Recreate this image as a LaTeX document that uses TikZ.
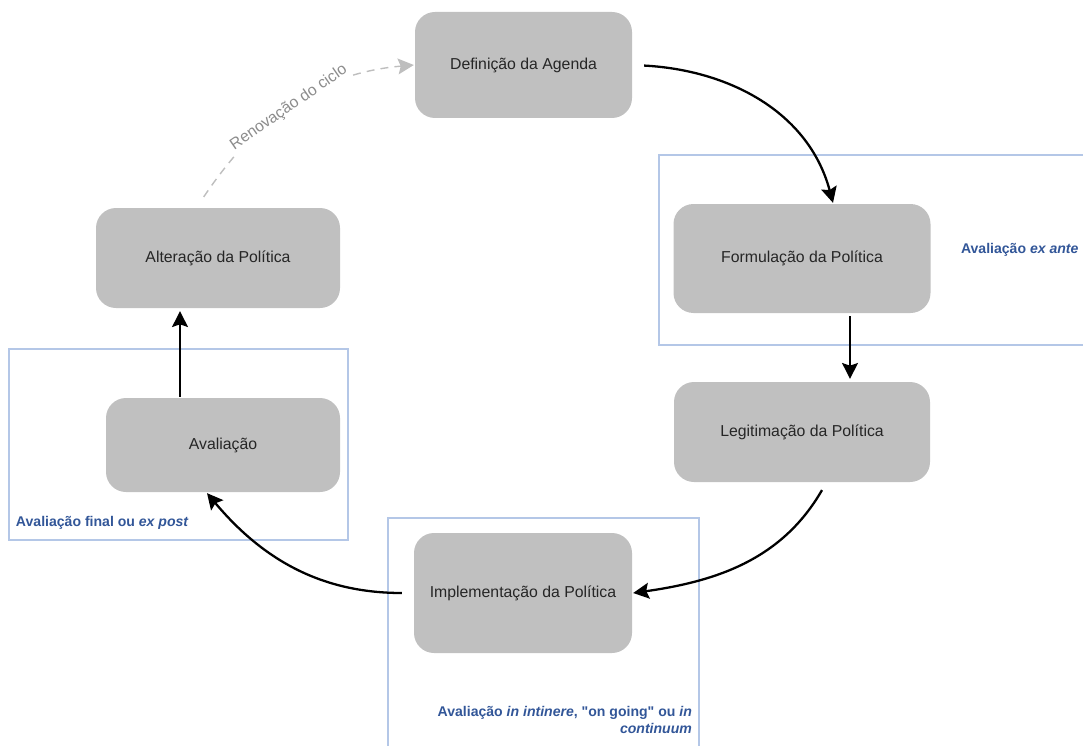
\documentclass[tikz,border=0pt]{standalone}
\usepackage{fontspec}
\setmainfont{Liberation Sans}
\usetikzlibrary{arrows.meta}

\definecolor{caixa}{RGB}{192,192,192}
\definecolor{moldura}{RGB}{180,199,231}
\definecolor{azul}{RGB}{50,86,152}
\definecolor{cinza}{RGB}{190,190,190}

\begin{document}
\begin{tikzpicture}[->,>={Stealth[length=9pt,width=9pt,inset=1.5pt]},line width=1.3pt,
                    font=\fontsize{9}{11}\selectfont]

  \tikzstyle{etapa}=[rectangle,rounded corners=0.4cm,fill=caixa,text=black!85,align=center]
  \tikzstyle{quadro}=[-,draw=moldura,line width=1pt]
  \tikzstyle{rotulo}=[text=azul,font=\fontsize{8}{10}\selectfont\bfseries]

  \useasboundingbox (0,0) rectangle (21.66,-14.9);

  \draw[quadro] (13.18,-3.10) rectangle (22.00,-6.90);
  \draw[quadro] (0.18,-6.98) rectangle (6.96,-10.80);
  \draw[quadro] (7.76,-10.36) rectangle (13.98,-15.20);

  \node[etapa,minimum width=4.34cm,minimum height=2.12cm] (agenda) at (10.47,-1.30) {Definição da Agenda};
  \node[etapa,minimum width=5.14cm,minimum height=2.18cm] (formul) at (16.04,-5.17) {Formulação da Política};
  \node[etapa,minimum width=5.12cm,minimum height=2.00cm] (legit)  at (16.04,-8.64) {Legitimação da Política};
  \node[etapa,minimum width=4.36cm,minimum height=2.40cm] (implem) at (10.46,-11.86) {Implementação da Política};
  \node[etapa,minimum width=4.68cm,minimum height=1.88cm] (aval)   at (4.46,-8.90) {Avaliação};
  \node[etapa,minimum width=4.88cm,minimum height=2.00cm] (alter)  at (4.36,-5.16) {Alteração da Política};

  \node[rotulo,anchor=west] (exante) at (19.08,-5.00) {Avaliação \textit{ex ante}};
  \node[rotulo,anchor=west] (expost) at (0.18,-10.46) {Avaliação final ou \textit{ex post}};
  \node[rotulo,anchor=north east,align=right,inner sep=0pt] (intinere) at (13.86,-14.10)
       {Avaliação \textit{in intinere}, \textquotedbl on going\textquotedbl{} ou \textit{in}\\ \textit{continuum}};

  \draw[shorten <=0.22cm] (agenda.east) to[out=-3,in=105] ([xshift=0.62cm]formul.north);
  \draw[shorten <=0.04cm,shorten >=0.04cm] ([xshift=0.96cm]formul.south) -- ([xshift=0.96cm]formul.south |- legit.north);
  \draw[shorten <=0.16cm] ([xshift=0.48cm]legit.south) to[out=-120,in=8] (implem.east);
  \draw[shorten <=0.22cm] (implem.west) to[out=180,in=-50] ([xshift=-0.32cm]aval.south);
  \draw[shorten >=0.04cm] ([xshift=-0.86cm]aval.north) -- ([xshift=-0.86cm]aval.north |- alter.south);
  \draw[cinza,line width=0.8pt,dash pattern=on 4.5pt off 3.5pt,shorten <=0.24cm]
       ([xshift=-0.42cm]alter.north) to[out=56,in=185]
       node[sloped,midway,fill=white,text=black!45,inner sep=1pt] {Renovação do ciclo} (agenda.west);

\end{tikzpicture}
\end{document}
